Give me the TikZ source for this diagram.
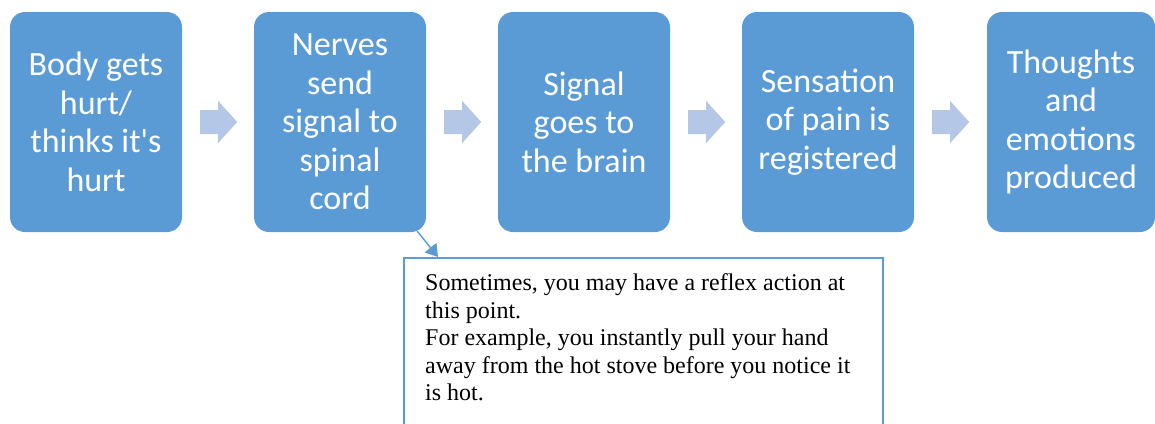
\documentclass[tikz,border=0pt]{standalone}
\usepackage{fontspec}
\setmainfont{Liberation Serif}
\newfontfamily\boxfont{Carlito}
\usetikzlibrary{arrows.meta,calc}
\definecolor{boxblue}{HTML}{5B9BD5}
\definecolor{chevblue}{HTML}{B4C7E7}
\newcommand\chevron[1]{\fill[chev] ([xshift=18pt]#1.east) ++(0,-12) -- ++(18,0) -- ++(0,-9) -- ++(19,21) -- ++(-19,21) -- ++(0,-9) -- ++(-18,0) -- cycle;}
\begin{document}
\begin{tikzpicture}[x=1pt,y=-1pt,
 stepbox/.style={rectangle, rounded corners=15pt, fill=boxblue, text=white, minimum width=172pt, minimum height=220pt, align=center, inner sep=0pt, font=\boxfont\fontsize{34}{38.5}\selectfont},
 chev/.style={fill=chevblue},
 notebox/.style={draw=boxblue, line width=2pt, fill=white, anchor=north west, minimum width=479pt, minimum height=200pt, inner sep=0pt},
 notetext/.style={anchor=north west, align=left, inner sep=0pt, font=\fontsize{24}{27.5}\selectfont},
 conn/.style={draw=boxblue, line width=1.4pt, -{Triangle[length=12pt,width=15pt]}}
]
\useasboundingbox (0,0) rectangle (1155,423);
\clip (0,0) rectangle (1155,423);
\node[stepbox] (b1) at (96,122) {Body gets\\hurt/\\thinks it's\\hurt};
\node[stepbox] (b2) at (340,122) {Nerves\\send\\signal to\\spinal\\cord};
\node[stepbox] (b3) at (584,122) {Signal\\goes to\\the brain};
\node[stepbox] (b4) at (828,122) {Sensation\\of pain is\\registered};
\node[stepbox, minimum width=168pt] (b5) at (1071,122) {Thoughts\\and\\emotions\\produced};
\chevron{b1}
\chevron{b2}
\chevron{b3}
\chevron{b4}
\node[notebox] (note) at (403,257) {};
\node[notetext] (notetxt) at (425,273.5) {Sometimes, you may have a reflex action at\\this point.\\For example, you instantly pull your hand\\away from the hot stove before you notice it\\is hot.};
\draw[conn] ([xshift=-9pt,yshift=1pt]b2.south east) -- ([xshift=35pt]note.north west);
\end{tikzpicture}
\end{document}
